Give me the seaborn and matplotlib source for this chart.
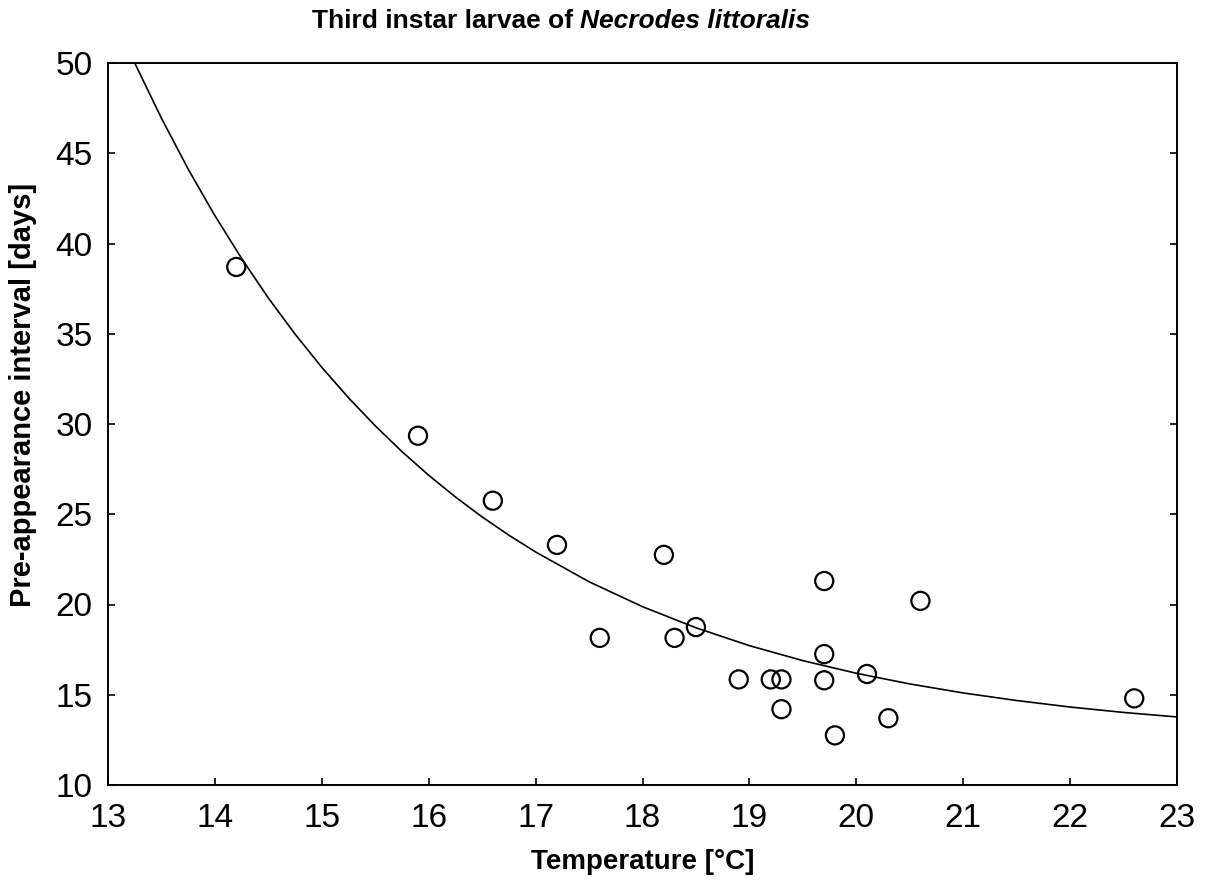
import matplotlib
matplotlib.use("Agg")
import matplotlib.pyplot as plt
import seaborn as sns
import pandas as pd

# observed points: temperature [°C] vs pre-appearance interval [days]
temperature = [14.2, 15.9, 16.6, 17.2, 17.6, 18.2, 18.3, 18.5, 18.9, 19.2,
               19.3, 19.3, 19.7, 19.7, 19.7, 19.8, 20.1, 20.3, 20.6, 22.6]
interval = [38.7, 29.35, 25.75, 23.3, 18.15, 22.75, 18.15, 18.75, 15.85, 15.85,
            15.85, 14.2, 21.3, 17.25, 15.8, 12.75, 16.15, 13.7, 20.2, 14.8]

# fitted curve
curve_x = [13.2, 13.25, 13.5, 13.75, 14.0, 14.25, 14.5, 14.75, 15.0, 15.25,
           15.5, 15.75, 16.0, 16.25, 16.5, 16.75, 17.0, 17.5, 18.0, 18.5,
           19.0, 19.5, 20.0, 20.5, 21.0, 21.5, 22.0, 22.5, 23.0]
curve_y = [50.65, 50.0, 46.94, 44.12, 41.54, 39.17, 36.98, 34.98, 33.14, 31.45,
           29.9, 28.47, 27.16, 25.96, 24.85, 23.84, 22.91, 21.26, 19.88, 18.71,
           17.72, 16.89, 16.19, 15.6, 15.1, 14.68, 14.32, 14.02, 13.77]

x_ticks = list(range(13, 24))
y_ticks = list(range(10, 51, 5))

sns.set_style("ticks")
plt.rcParams['font.family'] = ['Liberation Sans', 'DejaVu Sans']
plt.rcParams['text.color'] = 'black'
plt.rcParams['axes.labelcolor'] = 'black'

df = pd.DataFrame({"T": temperature, "D": interval})
dfc = pd.DataFrame({"T": curve_x, "D": curve_y})

fig = plt.figure(figsize=(12.09, 8.92), dpi=100)
ax = fig.add_axes([108/1209, 1-785/892, (1177-108)/1209, (785-63)/892])

sns.lineplot(data=dfc, x="T", y="D", color="black", linewidth=1.2, ax=ax)
sns.scatterplot(data=df, x="T", y="D", marker="o", s=170, facecolor="none",
                edgecolor="black", linewidth=1.6, ax=ax, zorder=3)

ax.set_xlim(13, 23)
ax.set_ylim(10, 50)
ax.set_xticks(x_ticks)
ax.set_yticks(y_ticks)
ax.tick_params(direction="in", length=5, width=1.2, labelsize=24,
               right=True, top=False, colors="black")
ax.tick_params(axis="x", pad=13)
ax.tick_params(axis="y", pad=11)
for s in ax.spines.values():
    s.set_linewidth(1.4)
    s.set_color("black")

ax.set_xlabel("Temperature [°C]", fontsize=20, fontweight="bold")
ax.xaxis.set_label_coords(0.5, -0.088)
ax.set_ylabel("Pre-appearance interval [days]", fontsize=21, fontweight="bold")
ax.yaxis.set_label_coords(-0.066, 0.54)

fig.text(573/1209, 1-21/892, "Third instar larvae of", fontsize=19,
         fontweight="bold", ha="right", va="center")
fig.text(580/1209, 1-21/892, "Necrodes littoralis", fontsize=19,
         fontweight="bold", style="italic", ha="left", va="center")

fig.savefig("out.png", dpi=100)
